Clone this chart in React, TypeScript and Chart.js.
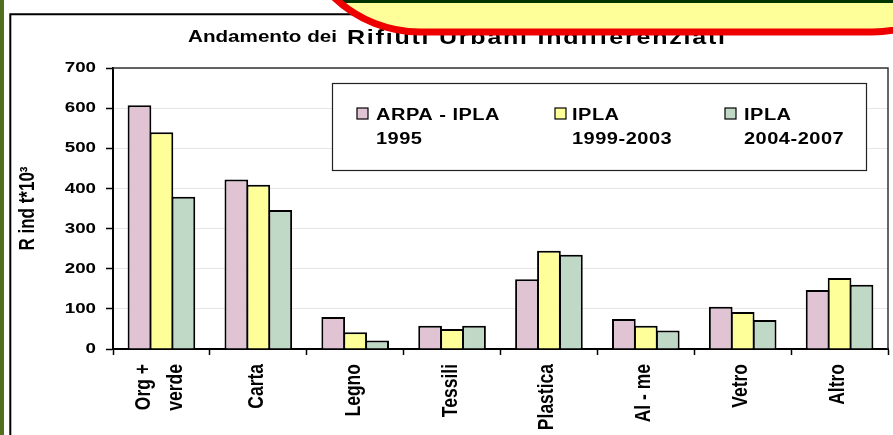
import React, { useEffect, useRef } from "react";
import { Chart, registerables } from "chart.js";

Chart.register(...registerables);

// ---- data ----
const categories: (string | string[])[] = [["Org +", "verde"], "Carta", "Legno", "Tessili", "Plastica", "Al - me", "Vetro", "Altro"];
const seriesNames = ["ARPA - IPLA\n1995", "IPLA\n1999-2003", "IPLA\n2004-2007"];
const arpa1995 = [607, 422, 80, 58, 174, 75, 105, 147];
const ipla1999to2003 = [540, 409, 42, 50, 245, 58, 92, 177];
const ipla2004to2007 = [379, 346, 21, 58, 235, 46, 72, 160];
const yMin = 0;
const yMax = 700;
const yStep = 100;
const titleLead = "Andamento dei";
const titleRest = "Rifiuti Urbani Indifferenziati";
const yAxisTitle = "R ind t*10³";

// ---- styles ----
const W = 893;
const H = 435;
const K = 1.25; // horizontal text stretch of the original
const FONT = "'Liberation Sans', Arial, sans-serif";
const colors = ["#e0c4d4", "#ffff99", "#c0d8c6"];

const decor = {
  id: "decor",
  beforeDraw(chart: any) {
    const ctx = chart.ctx as CanvasRenderingContext2D;
    ctx.save();
    ctx.fillStyle = "#ffffff";
    ctx.fillRect(0, 0, W, H);
    ctx.fillStyle = "#51701d";
    ctx.fillRect(0, 0, 4, H);
    ctx.strokeStyle = "#000";
    ctx.lineWidth = 2;
    ctx.beginPath();
    ctx.moveTo(10.3, H);
    ctx.lineTo(10.3, 14.3);
    ctx.lineTo(W, 14.3);
    ctx.stroke();
    ctx.restore();
  },
  afterDraw(chart: any) {
    const ctx = chart.ctx as CanvasRenderingContext2D;
    const a = chart.chartArea;
    ctx.save();
    // plot area top/right border
    ctx.strokeStyle = "#333";
    ctx.lineWidth = 1.5;
    ctx.beginPath();
    ctx.moveTo(a.left, a.top);
    ctx.lineTo(a.right, a.top);
    ctx.lineTo(a.right, a.bottom);
    ctx.stroke();

    // category labels, rotated, placed from the x scale
    const xs = chart.scales.x;
    ctx.fillStyle = "#000";
    ctx.font = `bold 17.5px ${FONT}`;
    ctx.textAlign = "right";
    ctx.textBaseline = "middle";
    const lineSep = 32;
    (chart.data.labels as any[]).forEach((lab: any, i: number) => {
      const lines: string[] = Array.isArray(lab) ? lab : [lab];
      const cx = xs.getPixelForTick(i) - 1.5;
      lines.forEach((ln, j) => {
        const off = (j - (lines.length - 1) / 2) * lineSep;
        ctx.save();
        ctx.translate(cx + off, a.bottom + 15);
        ctx.rotate(-Math.PI / 2);
        ctx.fillText(ln, 0, 0);
        ctx.restore();
      });
    });

    // legend
    ctx.fillStyle = "#fff";
    ctx.fillRect(332.5, 83.5, 534, 87);
    ctx.strokeStyle = "#222";
    ctx.lineWidth = 1.2;
    ctx.strokeRect(332.5, 83.5, 534, 87);
    const slots = [
      { sx: 357, tx: 376 },
      { sx: 555, tx: 572 },
      { sx: 725, tx: 744 },
    ];
    ctx.font = `bold 16px ${FONT}`;
    ctx.textAlign = "left";
    ctx.textBaseline = "alphabetic";
    (ctx as any).letterSpacing = "0.4px";
    chart.data.datasets.forEach((ds: any, i: number) => {
      const s = slots[i];
      ctx.fillStyle = ds.backgroundColor;
      ctx.fillRect(s.sx, 108, 11, 11);
      ctx.strokeStyle = "#000";
      ctx.lineWidth = 1.2;
      ctx.strokeRect(s.sx, 108, 11, 11);
      ctx.fillStyle = "#000";
      const lines = String(ds.label).split("\n");
      lines.forEach((ln: string, j: number) => ctx.fillText(ln, s.tx, 119.5 + j * 24));
    });

    // title
    ctx.fillStyle = "#000";
    ctx.font = `bold 16.5px ${FONT}`;
    (ctx as any).letterSpacing = "0px";
    ctx.fillText(titleLead, 188, 42);
    ctx.font = `bold 20px ${FONT}`;
    const natural = ctx.measureText(titleRest).width;
    const sp = (378 / K - natural) / (titleRest.length - 1);
    (ctx as any).letterSpacing = `${sp}px`;
    ctx.fillText(titleRest, 347, 44);
    (ctx as any).letterSpacing = "0px";

    // red callout box overlapping the top
    ctx.beginPath();
    (ctx as any).roundRect(296, -400, 700, 432, 124);
    ctx.fillStyle = "#ffff99";
    ctx.fill();
    ctx.save();
    ctx.clip();
    ctx.fillStyle = "#003300";
    ctx.fillRect(0, 0, W, 3);
    ctx.restore();
    ctx.lineWidth = 7;
    ctx.strokeStyle = "#ee0000";
    ctx.stroke();
    ctx.restore();
  },
};

export default function App() {
  const ref = useRef<HTMLCanvasElement | null>(null);
  useEffect(() => {
    const canvas = ref.current;
    if (!canvas) return;
    const ctx = canvas.getContext("2d") as CanvasRenderingContext2D;
    const origFill = ctx.fillText.bind(ctx);
    (ctx as any).fillText = (text: string, x: number, y: number, maxWidth?: number) => {
      const m = ctx.getTransform();
      const px = m.a * x + m.c * y + m.e;
      ctx.save();
      ctx.setTransform(new DOMMatrix().translate(px, 0).scale(K, 1).translate(-px, 0).multiply(m));
      if (maxWidth === undefined || maxWidth === null) origFill(text, x, y);
      else origFill(text, x, y, maxWidth);
      ctx.restore();
    };

    const datasets = [arpa1995, ipla1999to2003, ipla2004to2007].map((d, i) => ({
      label: seriesNames[i],
      data: d,
      backgroundColor: colors[i],
      borderColor: "#000",
      borderWidth: 2,
      categoryPercentage: 0.68,
      barPercentage: 1.08,
    }));

    const chart = new Chart(canvas, {
      type: "bar",
      data: { labels: categories as any, datasets },
      options: {
        responsive: false,
        animation: false,
        devicePixelRatio: 1,
        layout: { padding: { left: 12, top: 68, right: 5, bottom: 0 } },
        plugins: {
          legend: { display: false },
          title: { display: false },
          tooltip: { enabled: false },
        },
        scales: {
          x: {
            grid: {
              offset: true,
              drawOnChartArea: false,
              drawTicks: true,
              tickLength: 6,
              tickColor: "#000",
              tickWidth: 1.5,
            },
            border: { color: "#000", width: 2 },
            ticks: { display: false, autoSkip: false },
            afterFit: (s: any) => {
              s.height = H - 349;
            },
          },
          y: {
            min: yMin,
            max: yMax,
            ticks: {
              stepSize: yStep,
              padding: 10,
              color: "#000",
              font: { family: FONT, size: 15, weight: "bold" },
            },
            grid: {
              color: "#e6e6e6",
              lineWidth: 1,
              tickColor: "#000",
              tickLength: 7,
              tickWidth: 1.5,
            },
            border: { color: "#000", width: 2 },
            title: {
              display: true,
              text: yAxisTitle,
              color: "#000",
              font: { family: FONT, size: 17, weight: "bold" },
              padding: { top: 6, bottom: 0 },
            },
            afterFit: (s: any) => {
              s.width = 113 - 12;
            },
          },
        },
      } as any,
      plugins: [decor],
    });
    return () => chart.destroy();
  }, []);

  return (
    <div style={{ position: "fixed", left: 0, top: 0, width: W, height: H, background: "#fff" }}>
      <canvas ref={ref} width={W} height={H} style={{ display: "block", width: W, height: H }} />
    </div>
  );
}
